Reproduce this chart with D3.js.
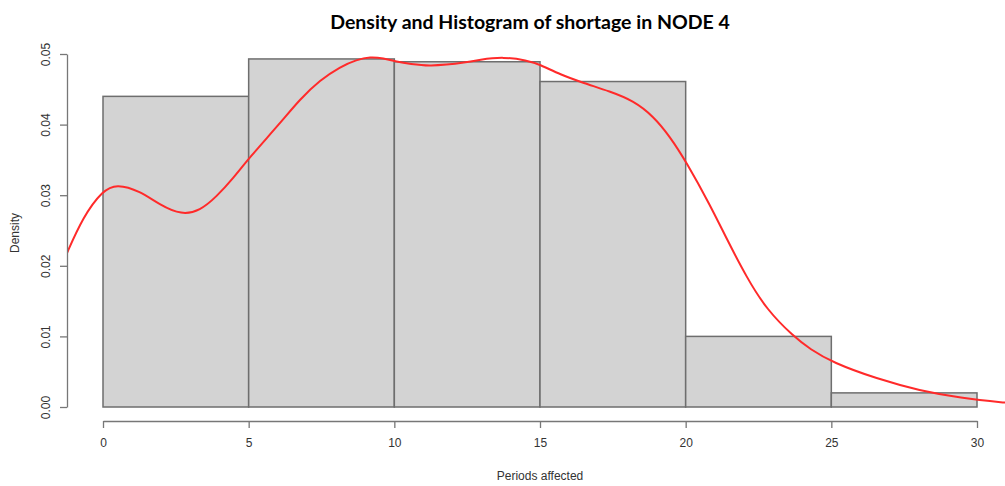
<!DOCTYPE html>
<html>
<head>
<meta charset="utf-8">
<script src="https://cdn.jsdelivr.net/npm/d3@7"></script>
<style>
  body { margin: 0; background: #fff; }
  .axis text { font-family: "Liberation Sans", Arial, sans-serif; font-size: 12px; fill: #333; }
  .axis path, .axis line { stroke: #777; stroke-width: 1.3; }
</style>
</head>
<body>
<div id="chart"></div>
<script>
var svgWidth = 1005;
var svgHeight = 486;

// histogram: bin edges and densities
var binEdges = [0, 5, 10, 15, 20, 25, 30];
var binDensity = [0.0440, 0.0493, 0.0489, 0.0461, 0.0100, 0.0020];

// kernel density curve
var densX = [-1.3, -0.68, 0, 0.47, 1.27, 1.96, 2.70, 3.33, 3.9, 4.47, 5.02, 6.08, 6.76, 7.45, 8.14,
  8.71, 9.17, 9.62, 10.08, 10.54, 11.23, 11.8, 12.3, 12.94, 13.74, 14.55, 15.0, 15.69, 16.49, 17.4,
  18.2, 18.89, 19.46, 20.01, 20.84, 21.41, 22.1, 22.78, 23.7, 24.27, 25.04, 26.56, 28.05, 29.42, 30.96, 31.6];
var densY = [0.0212, 0.0270, 0.0307, 0.0316, 0.0306, 0.0286, 0.0272, 0.0278, 0.0298, 0.0324, 0.0353,
  0.0402, 0.0436, 0.0463, 0.0482, 0.0492, 0.0496, 0.0494, 0.0489, 0.0486, 0.0483, 0.0485, 0.0487, 0.0492,
  0.0496, 0.0491, 0.0485, 0.0471, 0.0459, 0.0447, 0.0434, 0.0412, 0.0383, 0.0348, 0.0286, 0.0238, 0.0183,
  0.0138, 0.0100, 0.0082, 0.0063, 0.0040, 0.0023, 0.0013, 0.0006, 0.0004];

var xTicks = [0, 5, 10, 15, 20, 25, 30];
var yTicks = [0, 0.01, 0.02, 0.03, 0.04, 0.05];

var svg = d3.select("#chart")
  .append("svg")
  .attr("width", svgWidth)
  .attr("height", svgHeight);

var x = d3.scaleLinear().domain([0, 30]).range([103, 977]);
var y = d3.scaleLinear().domain([0, 0.05]).range([407, 54]);

// clip for the plot region (left edge at the y axis)
svg.append("clipPath").attr("id", "plotclip")
  .append("rect")
  .attr("x", 67).attr("y", 40)
  .attr("width", svgWidth - 67).attr("height", 381);

// bars
var bins = binDensity.map(function(d, i) {
  return { x0: binEdges[i], x1: binEdges[i + 1], d: d };
});

svg.append("g").selectAll("rect")
  .data(bins)
  .enter()
  .append("rect")
  .attr("x", d => x(d.x0))
  .attr("y", d => y(d.d))
  .attr("width", d => x(d.x1) - x(d.x0))
  .attr("height", d => y(0) - y(d.d))
  .attr("fill", "#d3d3d3")
  .attr("stroke", "#6e6e6e")
  .attr("stroke-width", 1.5);

// density line
var line = d3.line()
  .x(d => x(d[0]))
  .y(d => y(d[1]))
  .curve(d3.curveBasis);

svg.append("path")
  .datum(densX.map((v, i) => [v, densY[i]]))
  .attr("clip-path", "url(#plotclip)")
  .attr("d", line)
  .attr("fill", "none")
  .attr("stroke", "#ff2a2a")
  .attr("stroke-width", 2);

// axes
var xAxis = d3.axisBottom(x).tickValues(xTicks).tickSize(7).tickSizeOuter(0).tickPadding(10);
svg.append("g")
  .attr("class", "axis")
  .attr("transform", "translate(0,421)")
  .call(xAxis);

var yAxis = d3.axisLeft(y).tickValues(yTicks).tickSize(7).tickSizeOuter(0)
  .tickFormat(d3.format(".2f"));
var gy = svg.append("g")
  .attr("class", "axis")
  .attr("transform", "translate(67,0)")
  .call(yAxis);
gy.selectAll("text")
  .attr("transform", "rotate(-90)")
  .attr("text-anchor", "middle")
  .attr("x", 0)
  .attr("y", -17)
  .attr("dy", 0);

// labels
svg.append("text")
  .attr("x", 540)
  .attr("y", 480)
  .attr("text-anchor", "middle")
  .style("font-family", "Liberation Sans, Arial, sans-serif")
  .style("font-size", "12px")
  .style("fill", "#333")
  .text("Periods affected");

svg.append("text")
  .attr("transform", "translate(19,233) rotate(-90)")
  .attr("text-anchor", "middle")
  .style("font-family", "Liberation Sans, Arial, sans-serif")
  .style("font-size", "12px")
  .style("fill", "#333")
  .text("Density");

svg.append("text")
  .attr("x", 530)
  .attr("y", 29)
  .attr("text-anchor", "middle")
  .style("font-family", "Lato, sans-serif")
  .style("font-weight", "bold")
  .style("font-size", "19.5px")
  .style("fill", "#000")
  .text("Density and Histogram of shortage in NODE 4");
</script>
</body>
</html>
